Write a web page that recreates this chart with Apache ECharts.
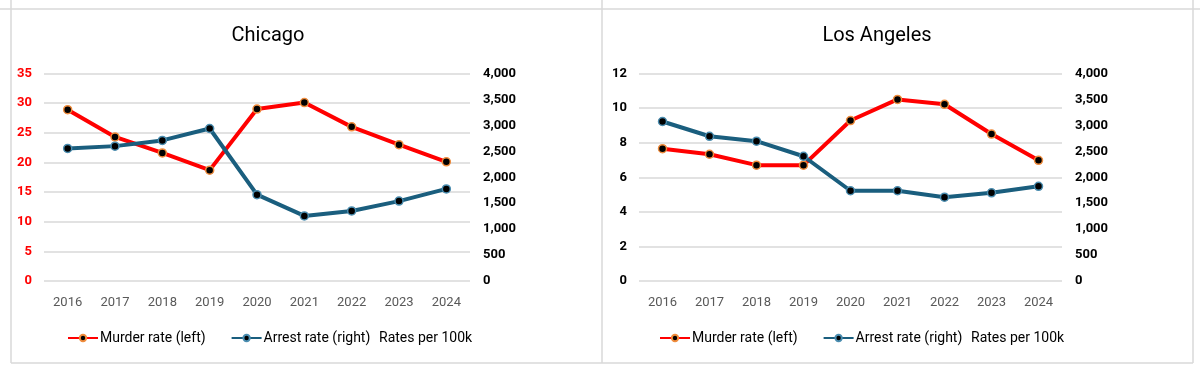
<!DOCTYPE html>
<html><head><meta charset="utf-8">
<script src="https://cdn.jsdelivr.net/npm/echarts@6/dist/echarts.min.js"></script>
<style>html,body{margin:0;padding:0;background:#fff}#c{width:1200px;height:368px}</style>
</head><body><div id="c"></div>
<script>
const years = ['2016','2017','2018','2019','2020','2021','2022','2023','2024'];
const chiMurder = [28.9, 24.3, 21.6, 18.7, 29.0, 30.1, 26.0, 23.0, 20.1];
const chiArrest = [2555, 2600, 2710, 2940, 1665, 1255, 1350, 1540, 1775];
const laMurder = [7.65, 7.33, 6.7, 6.7, 9.28, 10.5, 10.22, 8.5, 6.98];
const laArrest = [3075, 2790, 2695, 2405, 1740, 1740, 1615, 1700, 1825];
const titles = ['Chicago', 'Los Angeles'];
const leftMax = [35, 12];
const leftInterval = [5, 2];
const rightMax = 4000;
const rightInterval = 500;
const seriesNames = ['Murder rate (left)', 'Arrest rate (right)'];
const unitNote = 'Rates per 100k';

const RED = '#FF0000', BLUE = '#1A5E7E', GRID = '#D9D9D9';
const FONT = 'Roboto, sans-serif';
const chart = echarts.init(document.getElementById('c'));
const fmt = v => v.toLocaleString('en-US');

const grids = [
  {left: 44, top: 73.5, width: 426, height: 207.5},
  {left: 639, top: 73.5, width: 423, height: 207.5}
];
const xAxes = grids.map((g, i) => ({
  type: 'category', gridIndex: i, data: years, boundaryGap: true,
  axisLine: {show: false}, axisTick: {show: false},
  axisLabel: {color: '#595959', fontSize: 13, fontFamily: FONT, margin: 15}
}));
const yAxes = [];
[0, 1].forEach(i => {
  yAxes.push({
    type: 'value', gridIndex: i, min: 0, max: leftMax[i], interval: leftInterval[i], position: 'left',
    axisLine: {show: false}, axisTick: {show: false},
    axisLabel: {color: i === 0 ? RED : '#000', fontWeight: 'bold', fontSize: 13, fontFamily: FONT, margin: 12},
    splitLine: {lineStyle: {color: GRID, width: 1.5}}
  });
  yAxes.push({
    type: 'value', gridIndex: i, min: 0, max: rightMax, interval: rightInterval, position: 'right',
    axisLine: {show: false}, axisTick: {show: false},
    axisLabel: {color: '#000', fontWeight: 'bold', fontSize: 13, fontFamily: FONT, margin: 13, formatter: fmt},
    splitLine: {show: false}
  });
});

function lineSeries(name, data, xi, yi, color, border) {
  return {
    name, type: 'line', data, xAxisIndex: xi, yAxisIndex: yi,
    symbol: 'circle', symbolSize: 8,
    lineStyle: {color, width: 4},
    itemStyle: {color: '#000', borderColor: border, borderWidth: 1.5},
    emphasis: {disabled: true}, animation: false
  };
}
const series = [
  lineSeries(seriesNames[0], chiMurder, 0, 0, RED, '#F08C3C'),
  lineSeries(seriesNames[1], chiArrest, 0, 1, BLUE, '#4A8DB0'),
  lineSeries(seriesNames[0], laMurder, 1, 2, RED, '#F08C3C'),
  lineSeries(seriesNames[1], laArrest, 1, 3, BLUE, '#4A8DB0')
];

const legendText = {color: '#000', fontSize: 14, fontFamily: FONT, padding: [0, 0, 0, -3]};
const legends = [67, 659].map(l => ({
  left: l, top: 331, itemWidth: 30, itemHeight: 8, itemGap: 25, padding: 0,
  data: seriesNames, textStyle: legendText, selectedMode: false
}));

const line = (x1, y1, x2, y2) => ({type: 'line', shape: {x1, y1, x2, y2}, style: {stroke: '#D9D9D9', lineWidth: 1.5}, silent: true});
const note = x => ({type: 'text', x, y: 338, style: {text: unitNote, fill: '#000', font: '14px ' + FONT, textVerticalAlign: 'middle', verticalAlign: 'middle'}});
const graphic = [
  line(0, 9, 1200, 9), line(11, 0, 11, 363), line(602, 0, 602, 363), line(1193, 0, 1193, 363),
  line(11, 363, 1193, 363),
  note(379), note(971)
];

chart.setOption({
  backgroundColor: '#fff', animation: false,
  title: [
    {text: titles[0], left: 263, top: 21, textAlign: 'center', textStyle: {fontSize: 20, fontWeight: 'normal', color: '#000', fontFamily: FONT}},
    {text: titles[1], left: 872, top: 21, textAlign: 'center', textStyle: {fontSize: 20, fontWeight: 'normal', color: '#000', fontFamily: FONT}}
  ],
  grid: grids, xAxis: xAxes, yAxis: yAxes, series, legend: legends, graphic
});
</script></body></html>
